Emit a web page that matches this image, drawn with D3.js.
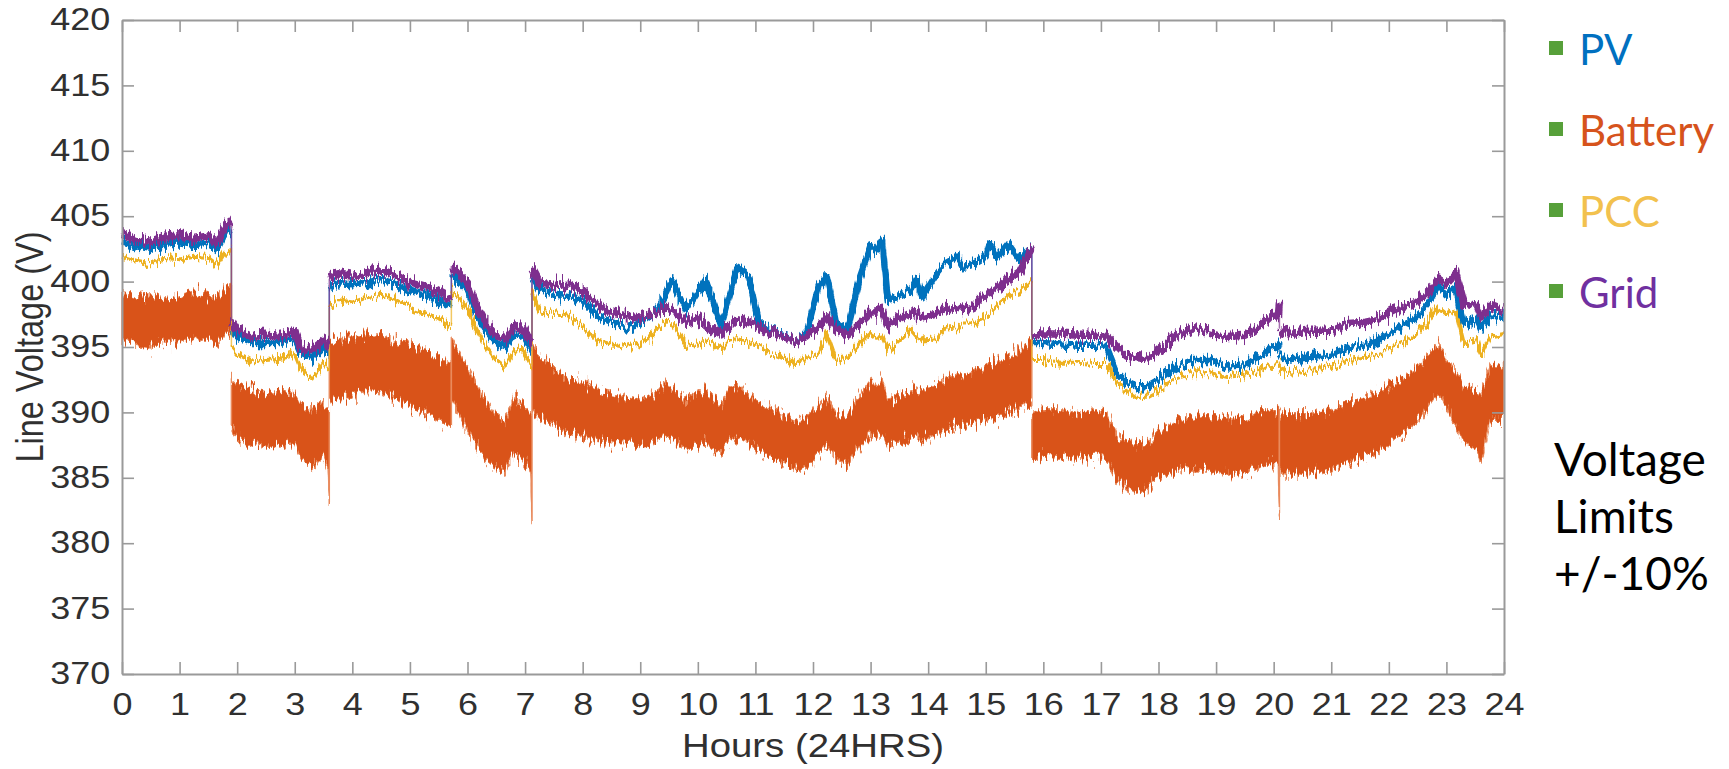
<!DOCTYPE html>
<html>
<head>
<meta charset="utf-8">
<script src="https://cdn.jsdelivr.net/npm/d3@7"></script>
<style>
  html, body { margin: 0; padding: 0; background: #fff; }
  svg { display: block; }
</style>
</head>
<body>
<div id="chart"></div>
<script>
// Hours of the day; a repeated hour marks a step change in the recording.
const hours = [
  0, 0.25, 0.5, 0.75, 1.0, 1.25, 1.5, 1.65, 1.8, 1.9,
  1.9, 2.0, 2.25, 2.5, 2.75, 3.0, 3.1, 3.3, 3.5, 3.58, 3.6,
  3.6, 3.75, 4.0, 4.25, 4.5, 4.75, 5.0, 5.25, 5.5, 5.72,
  5.72, 5.85, 6.0, 6.15, 6.3, 6.5, 6.65, 6.8, 6.95, 7.1, 7.12,
  7.12, 7.25, 7.5, 7.75, 8.0, 8.25, 8.5, 8.75, 9.0, 9.25, 9.45, 9.55, 9.8, 10.0, 10.13, 10.25, 10.4, 10.55, 10.68, 10.88,
  11.05, 11.25, 11.5, 11.72, 11.9, 12.1, 12.24, 12.4, 12.6, 12.82, 13.0, 13.1, 13.2, 13.3, 13.46, 13.7, 13.8, 13.9, 14.15, 14.3,
  14.5, 14.6, 14.8, 15.0, 15.07, 15.2, 15.4, 15.6, 15.8,
  15.8, 16.0, 16.3, 16.6, 16.9, 17.1, 17.28, 17.45, 17.6, 17.8, 18.0, 18.3, 18.6, 18.9, 19.2, 19.5, 19.77, 19.94, 20.08, 20.1,
  20.1, 20.2, 20.6, 21.0, 21.3, 21.6, 21.8, 22.1, 22.43, 22.66, 22.86, 23.0, 23.16, 23.3, 23.53, 23.6, 23.76, 24.0
];

const pvVolts = [
  403.0, 402.7, 402.5, 402.9, 403.0, 402.8, 402.9, 402.4, 403.8, 404.0,
  396.5, 395.8, 395.3, 395.3, 395.3, 395.6, 394.6, 394.2, 395.0, 394.6, 394.6,
  399.5, 399.9, 399.8, 399.9, 400.2, 399.8, 399.3, 399.0, 398.5, 398.0,
  400.6, 400.0, 399.3, 397.6, 396.4, 395.3, 395.0, 395.9, 396.0, 394.8, 394.8,
  400.4, 399.4, 399.0, 398.9, 398.5, 397.4, 396.9, 396.5, 396.8, 397.6, 399.0, 400.1, 397.8, 399.2, 400.1, 398.6, 396.6, 399.0, 401.0, 400.4,
  397.0, 396.2, 395.9, 395.3, 396.2, 399.7, 400.4, 396.8, 396.3, 400.4, 402.7, 402.4, 403.2, 398.6, 398.8, 399.4, 400.2, 398.8, 400.6, 401.4,
  401.9, 401.1, 401.4, 401.9, 402.9, 401.8, 402.9, 401.6, 402.6,
  395.3, 395.3, 395.2, 395.1, 395.1, 395.0, 393.0, 392.3, 392.0, 392.0, 392.5, 393.5, 394.0, 394.0, 393.5, 393.6, 394.3, 394.8, 395.0, 395.4,
  394.6, 394.0, 394.2, 394.4, 395.0, 395.2, 395.5, 396.3, 397.1, 398.1, 399.6, 399.0, 399.4, 396.8, 397.1, 396.4, 397.4, 397.3
];

const batteryHigh = [
  399.0, 398.8, 399.0, 398.6, 398.9, 399.2, 399.0, 398.8, 399.6, 399.8,
  392.5, 392.2, 391.8, 391.5, 391.6, 391.5, 390.6, 390.2, 390.8, 390.4, 390.4,
  395.5, 395.6, 395.8, 396.0, 396.0, 395.5, 395.2, 394.8, 394.2, 393.8,
  395.6, 394.6, 393.4, 392.2, 391.0, 389.8, 389.4, 391.2, 390.8, 390.0, 390.0,
  395.2, 394.4, 393.4, 392.6, 392.4, 391.8, 391.5, 391.2, 391.0, 391.4, 392.4, 391.8, 391.0, 391.4, 391.8, 391.2, 390.6, 392.0, 392.2, 391.4,
  390.8, 390.4, 389.8, 389.4, 389.6, 390.6, 391.2, 390.0, 389.8, 391.4, 392.4, 392.0, 392.6, 391.0, 391.2, 391.8, 392.0, 391.6, 392.2, 392.6,
  393.0, 392.8, 393.2, 393.6, 393.8, 393.8, 394.4, 394.8, 395.6,
  390.0, 390.2, 390.2, 390.0, 390.2, 390.0, 388.2, 387.8, 387.6, 387.6, 388.6, 389.4, 389.8, 389.8, 389.6, 389.5, 390.2, 390.2, 390.2, 390.2,
  390.2, 389.9, 389.9, 390.2, 390.8, 391.2, 391.6, 392.2, 393.2, 394.3, 395.3, 394.0, 393.2, 392.0, 391.8, 391.5, 393.5, 393.5
];

const batteryLow = [
  395.5, 395.2, 395.0, 395.4, 395.3, 395.6, 395.5, 395.2, 395.9, 396.2,
  389.0, 388.0, 387.6, 387.4, 387.5, 387.6, 386.4, 385.8, 386.6, 385.8, 383.3,
  390.8, 391.0, 391.2, 391.6, 391.5, 391.0, 390.4, 390.0, 389.4, 388.8,
  390.8, 389.8, 388.6, 387.4, 386.4, 385.6, 385.6, 386.8, 386.4, 385.4, 381.6,
  390.0, 389.6, 389.0, 388.4, 388.2, 387.8, 387.6, 387.6, 387.4, 387.8, 388.2, 388.0, 387.2, 387.4, 387.8, 387.2, 386.8, 387.8, 388.0, 387.6,
  387.0, 386.6, 386.2, 385.6, 385.8, 386.8, 387.4, 386.4, 386.0, 387.4, 388.2, 388.0, 388.4, 387.4, 387.6, 388.0, 388.2, 387.8, 388.4, 388.6,
  389.0, 388.8, 389.2, 389.4, 389.6, 389.6, 390.0, 390.2, 390.6,
  386.4, 386.6, 386.6, 386.4, 386.6, 386.4, 384.8, 384.2, 383.8, 384.0, 385.0, 385.4, 385.6, 385.6, 385.2, 385.4, 385.8, 386.0, 386.0, 382.2,
  385.6, 385.3, 385.3, 385.6, 386.2, 386.6, 386.9, 387.9, 388.9, 390.2, 391.5, 390.4, 389.0, 387.6, 387.2, 386.0, 389.4, 389.4
];

const pccVolts = [
  401.9, 401.6, 401.4, 401.8, 401.7, 401.9, 401.8, 401.3, 402.3, 402.6,
  395.0, 394.5, 393.9, 394.0, 394.1, 394.4, 393.3, 392.6, 393.8, 393.3, 393.3,
  398.0, 398.6, 398.4, 398.8, 399.0, 398.6, 398.0, 397.6, 397.2, 396.6,
  399.3, 398.8, 398.0, 396.4, 395.2, 394.0, 393.5, 394.6, 394.8, 393.6, 393.6,
  399.2, 397.8, 397.6, 397.4, 396.6, 395.5, 395.2, 395.0, 395.3, 396.0, 397.0, 396.8, 395.2, 395.1, 395.5, 395.3, 394.8, 395.5, 395.6, 395.4,
  395.0, 394.6, 394.1, 393.8, 394.2, 394.6, 396.0, 394.0, 394.2, 395.4, 396.0, 395.7, 395.8, 394.8, 395.3, 396.3, 395.8, 395.5, 395.6, 396.4,
  396.5, 396.8, 396.8, 397.3, 397.6, 398.2, 398.9, 399.2, 400.0,
  394.0, 394.0, 393.8, 393.8, 393.7, 393.7, 392.2, 391.6, 391.2, 391.2, 391.7, 392.6, 393.0, 393.0, 392.7, 392.9, 393.2, 393.6, 393.7, 393.9,
  393.4, 393.0, 393.2, 393.5, 394.0, 394.2, 394.5, 395.0, 395.8, 396.8, 398.1, 397.6, 397.8, 395.3, 395.6, 394.3, 395.8, 396.0
];

const gridVolts = [
  403.6, 403.2, 403.0, 403.4, 403.5, 403.3, 403.5, 402.9, 404.3, 404.6,
  397.0, 396.3, 395.8, 395.9, 395.8, 396.2, 395.0, 394.8, 395.5, 395.2, 395.2,
  400.2, 400.6, 400.4, 400.6, 400.9, 400.5, 399.9, 399.6, 399.1, 398.6,
  401.2, 400.6, 399.9, 398.2, 397.0, 395.9, 395.6, 396.5, 396.6, 395.4, 395.4,
  401.0, 399.9, 399.7, 399.8, 399.2, 398.3, 397.6, 397.4, 397.2, 397.6, 398.1, 397.9, 396.9, 397.2, 396.8, 396.4, 396.0, 396.6, 397.1, 396.9,
  396.6, 396.1, 395.8, 395.3, 395.9, 396.5, 397.3, 396.3, 395.9, 396.8, 397.6, 397.6, 397.8, 396.6, 397.1, 397.6, 397.4, 397.3, 397.6, 398.1,
  397.9, 397.8, 398.2, 399.0, 399.1, 399.5, 400.2, 400.8, 402.6,
  395.9, 396.0, 396.0, 395.9, 395.9, 395.8, 395.0, 394.3, 394.2, 394.1, 394.8, 395.8, 396.4, 396.2, 395.8, 395.9, 396.6, 397.3, 397.4, 398.4,
  396.4, 396.0, 396.2, 396.2, 396.8, 396.9, 397.1, 397.8, 398.3, 399.1, 400.2, 399.8, 400.6, 398.3, 398.1, 397.3, 398.2, 397.8
];

const xTickValues = [0, 1, 2, 3, 4, 5, 6, 7, 8, 9, 10, 11, 12, 13, 14, 15, 16, 17, 18, 19, 20, 21, 22, 23, 24];
const yTickValues = [370, 375, 380, 385, 390, 395, 400, 405, 410, 415, 420];
const legendNames = ["PV", "Battery", "PCC", "Grid"];
const noteLines = ["Voltage", "Limits", "+/-10%"];

const width = 1729, height = 769;
const margin = { top: 20, right: 225, bottom: 95, left: 122 };
const plotRight = width - margin.right;
const plotBottom = height - margin.bottom;
const stretch = 1.18; // the figure was pasted stretched horizontally

const colors = { pv: "#0072bd", battery: "#d95319", pcc: "#edb120", grid: "#7e2f8e" };
const legendColors = ["#0070c0", "#d6531c", "#f2c14e", "#7030a0"];
const axisGray = "#9a9a9a";
const labelFont = "'Liberation Sans', Arial, Helvetica, sans-serif";
const legendFont = "Lato, 'Open Sans', sans-serif";

const svg = d3.select("#chart").append("svg")
  .attr("width", width)
  .attr("height", height)
  .style("background", "#fff");

const x = d3.scaleLinear().domain([0, 24]).range([margin.left, plotRight]);
const y = d3.scaleLinear().domain([370, 420]).range([plotBottom, margin.top]);

// Rough texture filters: the recorded signals are very noisy.
const defs = svg.append("defs");
function addRough(id, scale, freq) {
  const f = defs.append("filter")
    .attr("id", id)
    .attr("filterUnits", "userSpaceOnUse")
    .attr("x", margin.left - 10).attr("y", 0)
    .attr("width", plotRight - margin.left + 20).attr("height", plotBottom + 10)
    .attr("color-interpolation-filters", "sRGB");
  f.append("feTurbulence")
    .attr("type", "fractalNoise")
    .attr("baseFrequency", freq)
    .attr("numOctaves", 2)
    .attr("seed", 7)
    .attr("result", "noise");
  f.append("feColorMatrix")
    .attr("in", "noise")
    .attr("type", "matrix")
    .attr("values", "1 0 0 0 0  0 0 0 0 0.5  0 0 0 0 0  0 0 0 0 1")
    .attr("result", "map");
  f.append("feDisplacementMap")
    .attr("in", "SourceGraphic")
    .attr("in2", "map")
    .attr("scale", scale)
    .attr("xChannelSelector", "G")
    .attr("yChannelSelector", "R");
}
addRough("roughBand", 28, "0.45 0.08");
addRough("roughLine", 20, "0.5 0.05");

// Build points and split at the step changes (repeated hours).
const points = hours.map((h, i) => ({
  h: h, pv: pvVolts[i], batHi: batteryHigh[i], batLo: batteryLow[i],
  pcc: pccVolts[i], grid: gridVolts[i]
}));
const segments = [];
points.forEach((p, i) => {
  if (i === 0 || p.h === points[i - 1].h) segments.push([]);
  segments[segments.length - 1].push(p);
});

const plotG = svg.append("g");

function drawLine(key, color, strokeWidth) {
  const g = plotG.append("g").attr("class", "series-" + key);
  const line = d3.line().x(d => x(d.h)).y(d => y(d[key]));
  // thin vertical connectors at the steps
  segments.forEach((seg, k) => {
    if (k === 0) return;
    const prev = segments[k - 1][segments[k - 1].length - 1];
    g.append("line")
      .attr("x1", x(prev.h)).attr("x2", x(seg[0].h))
      .attr("y1", y(prev[key])).attr("y2", y(seg[0][key]))
      .attr("stroke", color).attr("stroke-width", 1.5).attr("opacity", 0.7);
  });
  const lg = g.append("g").attr("filter", "url(#roughLine)");
  segments.forEach(seg => {
    lg.append("path")
      .datum(seg)
      .attr("d", line)
      .attr("fill", "none")
      .attr("stroke", color)
      .attr("stroke-width", strokeWidth)
      .attr("stroke-linejoin", "round");
  });
}

drawLine("pv", colors.pv, 6.5);

// Battery is a wide noisy band
const band = d3.area().x(d => x(d.h)).y0(d => y(d.batLo)).y1(d => y(d.batHi));
const bg = plotG.append("g").attr("class", "series-battery").attr("filter", "url(#roughBand)");
segments.forEach(seg => {
  bg.append("path")
    .datum(seg)
    .attr("d", band)
    .attr("fill", colors.battery)
    .attr("stroke", "#e98a5c")
    .attr("stroke-width", 1.5);
});

drawLine("pcc", colors.pcc, 4);
drawLine("grid", colors.grid, 7.5);

// Axes (box with inward ticks on all sides)
function styleAxis(g) {
  g.select(".domain").attr("stroke", axisGray).attr("stroke-width", 2);
  g.selectAll(".tick line").attr("stroke", axisGray).attr("stroke-width", 1.6);
}

const xAxis = svg.append("g")
  .attr("transform", `translate(0,${plotBottom})`)
  .call(d3.axisBottom(x).tickValues(xTickValues).tickSize(-12).tickSizeOuter(0).tickPadding(19));
styleAxis(xAxis);
xAxis.selectAll("text")
  .attr("font-family", labelFont)
  .attr("font-size", 30.5)
  .attr("fill", "#303030")
  .attr("transform", `scale(${stretch},1)`);

const yAxis = svg.append("g")
  .attr("transform", `translate(${margin.left},0)`)
  .call(d3.axisLeft(y).tickValues(yTickValues).tickSize(-12).tickSizeOuter(0).tickPadding(10));
styleAxis(yAxis);
yAxis.selectAll("text")
  .attr("font-family", labelFont)
  .attr("font-size", 30.5)
  .attr("fill", "#303030")
  .attr("transform", `scale(${stretch},1)`);

const topAxis = svg.append("g")
  .attr("transform", `translate(0,${margin.top})`)
  .call(d3.axisTop(x).tickValues(xTickValues).tickSize(-12).tickSizeOuter(0).tickFormat(""));
styleAxis(topAxis);

const rightAxis = svg.append("g")
  .attr("transform", `translate(${plotRight},0)`)
  .call(d3.axisRight(y).tickValues(yTickValues).tickSize(-12).tickSizeOuter(0).tickFormat(""));
styleAxis(rightAxis);

// Axis titles
svg.append("text")
  .attr("transform", `translate(${(margin.left + plotRight) / 2},757) scale(${stretch},1)`)
  .attr("text-anchor", "middle")
  .attr("font-family", labelFont)
  .attr("font-size", 32.5)
  .attr("fill", "#303030")
  .text("Hours (24HRS)");

svg.append("text")
  .attr("transform", `translate(43,${(margin.top + plotBottom) / 2}) scale(${stretch},1) rotate(-90)`)
  .attr("text-anchor", "middle")
  .attr("font-family", labelFont)
  .attr("font-size", 32.5)
  .attr("fill", "#303030")
  .text("Line Voltage (V)");

// Legend on the right
const legend = svg.append("g").attr("class", "legend");
legendNames.forEach((name, i) => {
  const baseY = 65 + i * 81;
  legend.append("rect")
    .attr("x", 1549).attr("y", baseY - 24)
    .attr("width", 14).attr("height", 14)
    .attr("fill", "#57a03a");
  legend.append("text")
    .attr("x", 1579).attr("y", baseY)
    .attr("font-family", legendFont)
    .attr("font-size", 42)
    .attr("fill", legendColors[i])
    .text(name);
});

// Note text
noteLines.forEach((t, i) => {
  svg.append("text")
    .attr("x", 1554).attr("y", 476 + i * 57)
    .attr("font-family", legendFont)
    .attr("font-size", 46)
    .attr("fill", "#000")
    .text(t);
});
</script>
</body>
</html>
